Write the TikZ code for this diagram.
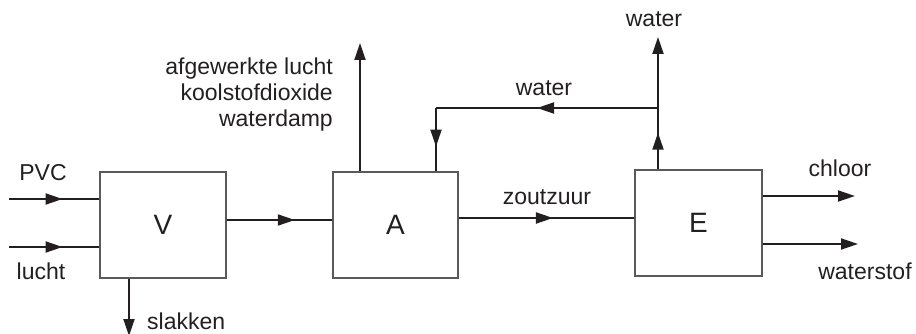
\documentclass[tikz,border=0pt]{standalone}
\usepackage{fontspec}
\setmainfont{Liberation Sans}
\usetikzlibrary{arrows.meta,decorations.markings}
\definecolor{ink}{HTML}{231F20}
\definecolor{boxline}{HTML}{5A5A5A}
\tikzset{
  tri/.tip={Triangle[length=17pt,width=11pt]},
  flow/.style={draw=ink,line width=1.9pt},
  endarrow/.style={flow,-tri},
  midarrow/.style={flow,postaction={decorate},decoration={markings,
    mark=at position #1 with {\arrow[ink]{tri}}}},
  procbox/.style={draw=boxline,line width=1.5pt,minimum width=126pt,minimum height=106pt,
    inner sep=0pt,font=\fontsize{28}{30}\selectfont,text=ink},
  lbl/.style={inner sep=0pt,font=\fontsize{23}{26}\selectfont,text=ink}
}
\begin{document}
\begin{tikzpicture}[x=1pt,y=-1pt]
\useasboundingbox (0,0) rectangle (916,334);
% boxes
\node[procbox] (V) at (163,225) {V};
\node[procbox,minimum width=125pt] (A) at (395.5,225) {A};
\node[procbox,minimum width=127pt] (E) at (698.5,223) {E};
% coordinates
\coordinate (pvc) at (9,199);
\coordinate (lu) at (9,247);
\coordinate (slk) at (129,336);
\coordinate (va) at (280,220);
\coordinate (aup) at (360,43);
\coordinate (wj) at (658,108);
\coordinate (wr) at (436,108);
\coordinate (wtop) at (658,37);
\coordinate (zz) at (550,218);
\coordinate (cl) at (855,196);
\coordinate (ws) at (858,244);
% connectors
\draw[midarrow=0.593] (pvc) -- (pvc -| V.west);
\draw[midarrow=0.593] (lu) -- (lu -| V.west);
\draw[endarrow] (V.south -| slk) -- (slk);
\draw[midarrow=0.645] (va -| V.east) -- (va -| A.west);
\draw[endarrow] (A.north -| aup) -- (aup);
\draw[midarrow=0.545] (wj) -- (wr);
\draw[midarrow=0.61] (wr) -- (A.north -| wr);
\draw[midarrow=0.597] (E.north -| wj) -- (wj);
\draw[endarrow] (wj) -- (wtop);
\draw[midarrow=0.537] (zz -| A.east) -- (zz -| E.west);
\draw[endarrow] (cl -| E.east) -- (cl);
\draw[endarrow] (ws -| E.east) -- (ws);
% labels
\node[lbl] (lpvc) at (43,173) {PVC};
\node[lbl] (llu) at (41,271) {lucht};
\node[lbl,anchor=base west] (lslk) at (147,329) {slakken};
\node[lbl,align=right,anchor=north east] (lgas) at (333,58) {afgewerkte lucht\\koolstofdioxide\\waterdamp};
\node[lbl] (lw1) at (654,19) {water};
\node[lbl] (lw2) at (544,88) {water};
\node[lbl] (lzz) at (547,197) {zoutzuur};
\node[lbl] (lcl) at (840,168) {chloor};
\node[lbl] (lws) at (865,271) {waterstof};
\end{tikzpicture}
\end{document}
